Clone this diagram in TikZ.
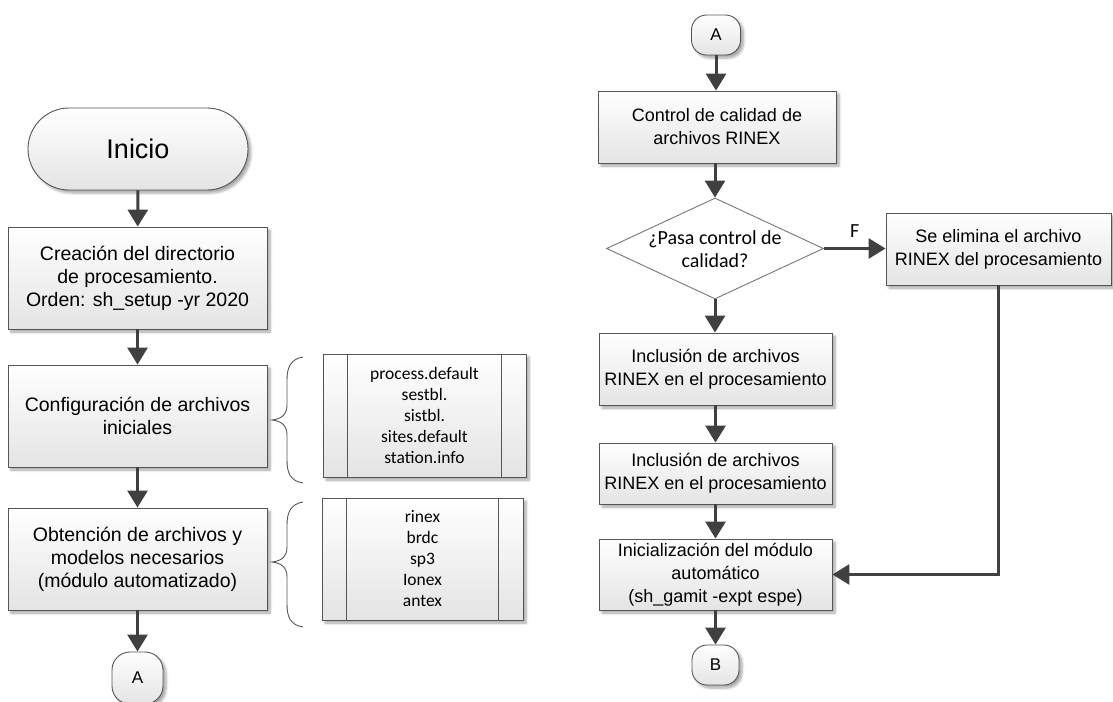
\documentclass[tikz,border=0pt]{standalone}
\usepackage{fontspec}
\setmainfont{Liberation Sans}
\newfontfamily\calibri{Carlito}
\usetikzlibrary{arrows.meta,shapes.geometric,shadows.blur}

\definecolor{linegray}{RGB}{64,64,64}
\definecolor{edgegray}{RGB}{85,85,85}
\definecolor{fillbot}{RGB}{228,228,228}

\tikzset{
  softshadow/.style={blur shadow={shadow xshift=3pt, shadow yshift=-3pt,
      shadow blur steps=6, shadow blur radius=2.5pt, shadow opacity=35}},
  boxbase/.style={draw=edgegray, line width=0.9pt, top color=white,
      bottom color=fillbot, inner sep=0pt, align=center, softshadow},
  procleft/.style={boxbase, font=\fontsize{19.5}{23}\selectfont},
  procright/.style={boxbase, font=\fontsize{18}{23}\selectfont},
  terminal/.style={boxbase, rounded corners=41pt,
      font=\fontsize{27}{30}\selectfont},
  connector/.style={boxbase, rounded corners=15pt,
      font=\fontsize{17}{20}\selectfont},
  listbox/.style={boxbase, font=\calibri\fontsize{17.5}{21}\selectfont},
  decision/.style={shape=diamond, draw=edgegray!80, line width=0.9pt,
      fill=white, inner sep=0pt},
  flow/.style={draw=linegray, line width=3pt,
      -{Triangle[width=20pt,length=17pt]}},
  bracket/.style={draw=edgegray, line width=0.9pt},
}

\begin{document}
\begin{tikzpicture}[x=1pt, y=-1pt]
\useasboundingbox (0,0) rectangle (1113,701);

% ---------- left column ----------
\node[terminal, minimum width=220pt, minimum height=82pt] (inicio) at (138,149) {Inicio};
\node[procleft, minimum width=259pt, minimum height=102pt] (crea) at (137.5,278)
  {Creación del directorio\\de procesamiento.\\Orden: sh\_setup -yr 2020};
\node[procleft, minimum width=259pt, minimum height=102pt] (conf) at (137.5,416)
  {Configuración de archivos\\iniciales};
\node[procleft, minimum width=259pt, minimum height=102pt] (obt) at (137.5,559)
  {Obtención de archivos y\\modelos necesarios\\(módulo automatizado)};
\node[connector, rounded corners=18pt, minimum width=51pt, minimum height=52pt]
  (conA) at (137.5,678) {A};

\draw[flow] (inicio) -- (crea);
\draw[flow] (crea) -- (conf);
\draw[flow] (conf) -- (obt);
\draw[flow] (obt) -- (conA);

% file lists with their side bars
\node[listbox, minimum width=203pt, minimum height=123pt] (lista) at (424.5,415.5)
  {process.default\\sestbl.\\sistbl.\\sites.default\\station.info};
\draw[edgegray, line width=0.9pt]
  ([xshift=25pt]lista.north west) -- ([xshift=25pt]lista.south west)
  ([xshift=-25pt]lista.north east) -- ([xshift=-25pt]lista.south east);

\node[listbox, minimum width=201pt, minimum height=122pt] (listb) at (422.5,559)
  {rinex\\brdc\\sp3\\Ionex\\antex};
\draw[edgegray, line width=0.9pt]
  ([xshift=25pt]listb.north west) -- ([xshift=25pt]listb.south west)
  ([xshift=-25pt]listb.north east) -- ([xshift=-25pt]listb.south east);

% braces
\draw[bracket] (303,357) .. controls (291,359) and (287,367) .. (287,380)
  -- (287,405) .. controls (287,415) and (281,419) .. (272,420)
  .. controls (281,421) and (287,425) .. (287,435)
  -- (287,460) .. controls (287,474) and (291,481) .. (303,483);
\draw[bracket] (303,502) .. controls (291,504) and (287,512) .. (287,525)
  -- (287,547) .. controls (287,557) and (281,561) .. (272,562)
  .. controls (281,563) and (287,567) .. (287,577)
  -- (287,604) .. controls (287,618) and (291,625) .. (303,627);

% ---------- right column ----------
\node[connector, minimum width=49pt, minimum height=40pt] (conA2) at (716,35) {A};
\node[procright, minimum width=238pt, minimum height=72pt] (ctrl) at (717,127)
  {Control de calidad de\\archivos RINEX};
\node[decision, minimum width=217pt, minimum height=101pt] (pasa) at (715,248.5) {};
\node[font=\calibri\fontsize{20}{23}\selectfont, align=center, inner sep=0pt]
  (pasatxt) at (715,249) {¿Pasa control de\\calidad?};
\node[procright, minimum width=225pt, minimum height=72pt] (elim) at (998.5,249)
  {Se elimina el archivo\\RINEX del procesamiento};
\node[procright, minimum width=233pt, minimum height=72pt] (inc1) at (715.5,369)
  {Inclusión de archivos\\RINEX en el procesamiento};
\node[procright, minimum width=233pt, minimum height=61pt] (inc2) at (715.5,473.5)
  {Inclusión de archivos\\RINEX en el procesamiento};
\node[procright, minimum width=233pt, minimum height=71pt] (init) at (715.5,574.5)
  {Inicialización del módulo\\automático\\(sh\_gamit -expt espe)};
\node[connector, minimum width=47pt, minimum height=40pt] (conB) at (715.5,665) {B};

\draw[flow] (conA2) -- (conA2 |- ctrl.north);
\draw[flow] (ctrl.south -| pasa) -- (pasa.north);
\draw[flow] (pasa.east) -- (elim.west |- pasa.east)
  node[pos=0.5, above=10pt, font=\calibri\fontsize{20}{23}\selectfont, inner sep=0pt] (flab) {F};
\draw[flow] (pasa.south) -- (pasa.south |- inc1.north);
\draw[flow] (inc1) -- (inc2);
\draw[flow] (inc2) -- (init);
\draw[flow] (init) -- (conB);
\draw[flow] (elim.south) |- (init.east);
\end{tikzpicture}
\end{document}
